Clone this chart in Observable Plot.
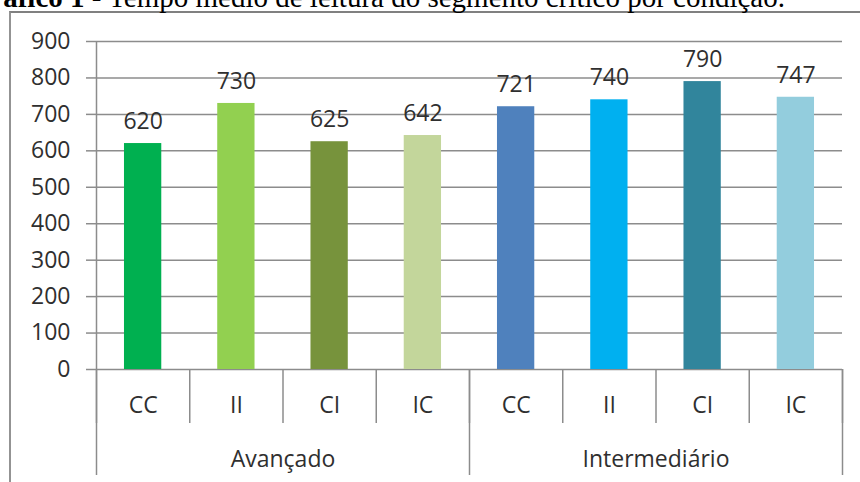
<!DOCTYPE html>
<html>
<head>
<meta charset="utf-8">
<script src="https://cdn.jsdelivr.net/npm/d3@7"></script>
<script src="https://cdn.jsdelivr.net/npm/@observablehq/plot@0.6"></script>
<style>
  html, body { margin: 0; padding: 0; background: #fff; }
  #wrap { position: relative; width: 860px; height: 482px; overflow: hidden; background: #fff; }
  #title { position: absolute; top: -17px; left: 0; white-space: nowrap; font-family: "Liberation Serif", "Times New Roman", serif; font-size: 29px; line-height: 29px; color: #000; z-index: 2; }
  #frame { position: absolute; left: 9px; top: 11px; width: 900px; height: 500px; border-left: 2px solid #939393; border-top: 2px solid #808080; box-sizing: border-box; z-index: 1; }
  #chart { position: absolute; left: 0; top: 0; z-index: 3; }
</style>
</head>
<body>
<div id="wrap">
  <div id="frame"></div>
  <div id="title"><b>Gráfico 1</b> - Tempo médio de leitura do segmento crítico por condição.</div>
  <div id="chart"></div>
</div>
<script>
// ---- Data ----
const groups = ["Avançado", "Avançado", "Avançado", "Avançado", "Intermediário", "Intermediário", "Intermediário", "Intermediário"];
const conditions = ["CC", "II", "CI", "IC", "CC", "II", "CI", "IC"];
const values = [620, 730, 625, 642, 721, 740, 790, 747];
const colors = ["#00B050", "#92D050", "#77933C", "#C3D69B", "#4F81BD", "#00B0F0", "#31859C", "#93CDDD"];
const yTicks = [0, 100, 200, 300, 400, 500, 600, 700, 800, 900];

// ---- Derived tables ----
const data = values.map((v, i) => ({i, group: groups[i], cond: conditions[i], value: v, color: colors[i]}));
const catBoundaries = d3.range(conditions.length + 1).map(i => i - 0.5);
const groupNames = Array.from(new Set(groups));
const groupStarts = groupNames.map(g => groups.indexOf(g));
const groupEnds = groupNames.map(g => groups.lastIndexOf(g));
const groupBoundaries = [...groupStarts.map(s => s - 0.5), groupEnds[groupEnds.length - 1] + 0.5];
const groupCenters = groupNames.map((g, k) => (groupStarts[k] + groupEnds[k]) / 2);

const barHalf = 0.2;
const lineColor = "#8c8c8c";
const textColor = "#2f2f2f";
const font = "'Open Sans', sans-serif";
const blank = () => "";

const chart = Plot.plot({
  width: 860,
  height: 482,
  marginLeft: 96,
  marginRight: 18,
  marginTop: 41,
  marginBottom: 113,
  style: {fontFamily: font, fontSize: "23px", color: textColor, background: "transparent", overflow: "visible"},
  x: {type: "linear", domain: [-0.5, conditions.length - 0.5], axis: null},
  y: {domain: [0, 900], axis: null},
  marks: [
    Plot.gridY(yTicks, {stroke: lineColor, strokeOpacity: 1, strokeWidth: 1.5}),
    Plot.axisY(yTicks, {tickSize: 10, tickPadding: 16, stroke: lineColor, strokeWidth: 1.5, fill: textColor, fontSize: 23, tickFormat: d => String(d), label: null}),
    Plot.ruleX([catBoundaries[0]], {stroke: lineColor, strokeWidth: 1.5}),
    Plot.rectY(data, {x1: d => d.i - barHalf, x2: d => d.i + barHalf, y: "value", fill: "color"}),
    Plot.text(data, {x: "i", y: "value", text: d => String(d.value), dy: -22, fill: textColor, fontSize: 23}),
    // category separators
    Plot.axisX(catBoundaries, {anchor: "bottom", tickSize: 54, tickFormat: blank, stroke: lineColor, strokeWidth: 1.5, label: null}),
    // group separators
    Plot.axisX(groupBoundaries, {anchor: "bottom", tickSize: 106, tickFormat: blank, stroke: lineColor, strokeWidth: 1.5, label: null}),
    // category labels
    Plot.axisX(data.map(d => d.i), {anchor: "bottom", tickSize: 0, tickPadding: 27, tickFormat: i => conditions[i], fill: textColor, fontSize: 23, label: null}),
    // group labels
    Plot.axisX(groupCenters, {anchor: "bottom", tickSize: 0, tickPadding: 81, tickFormat: c => groupNames[groupCenters.indexOf(c)], fill: textColor, fontSize: 23, label: null})
  ]
});
document.getElementById("chart").appendChild(chart);

// place title so its right end sits where the reference's does
const t = document.getElementById("title");
const w = t.getBoundingClientRect().width;
t.style.left = (785 - w) + "px";
</script>
</body>
</html>
